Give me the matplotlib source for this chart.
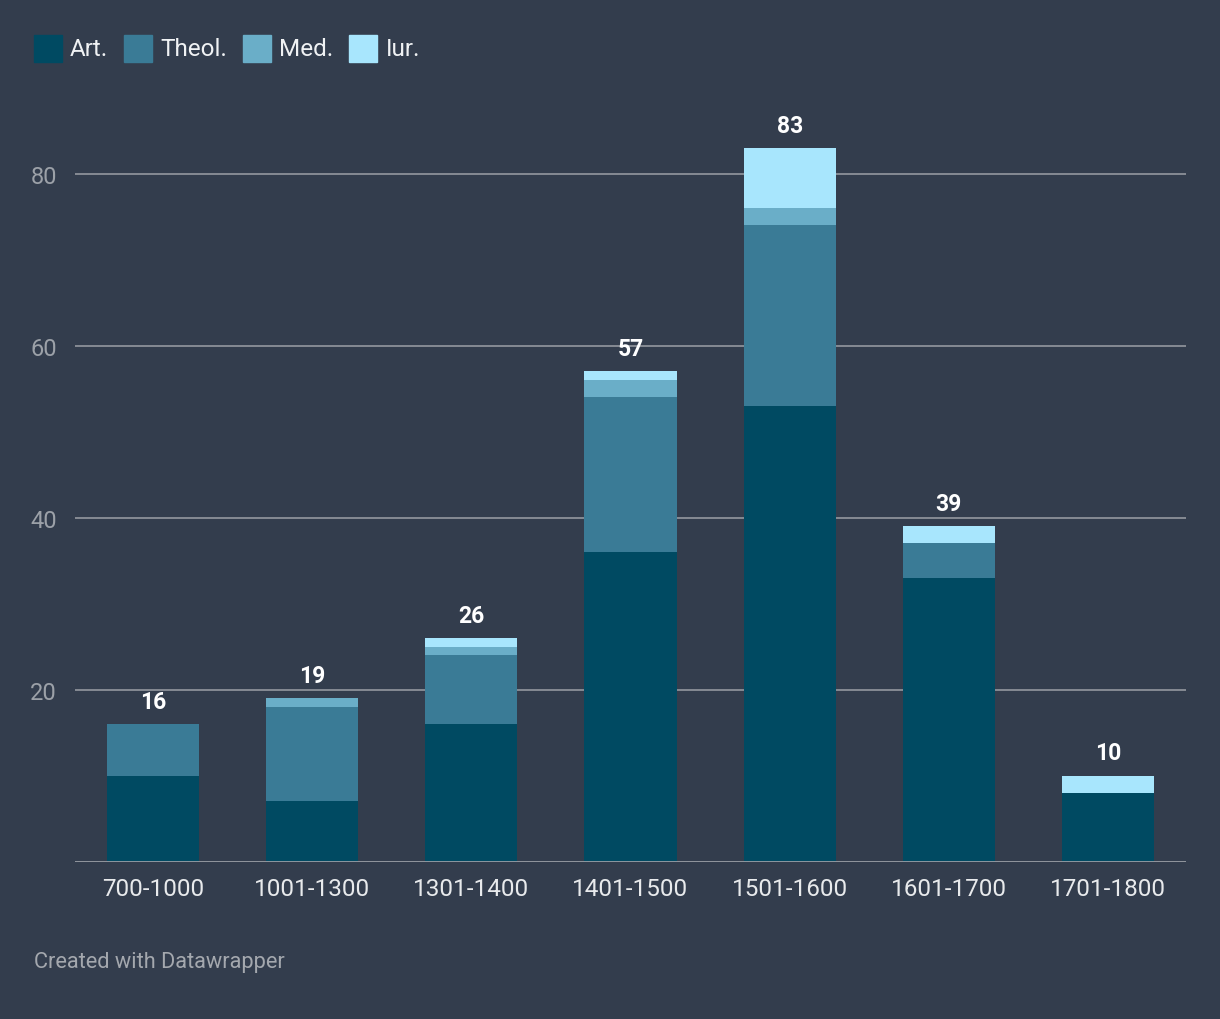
import matplotlib
matplotlib.use("Agg")
import matplotlib.pyplot as plt
import numpy as np
from matplotlib.patches import Rectangle

plt.rcParams["font.family"] = ["Roboto", "DejaVu Sans"]

periods = ["700-1000", "1001-1300", "1301-1400", "1401-1500", "1501-1600", "1601-1700", "1701-1800"]
art = [10, 7, 16, 36, 53, 33, 8]
theol = [6, 11, 8, 18, 21, 4, 0]
med = [0, 1, 1, 2, 2, 0, 0]
iur = [0, 0, 1, 1, 7, 2, 2]

series = [("Art.", art, "#004a62"), ("Theol.", theol, "#3a7b96"),
          ("Med.", med, "#6aaec8"), ("Iur.", iur, "#a8e6fd")]

BG = "#333d4d"
fig = plt.figure(figsize=(12.2, 10.2), dpi=100)
fig.patch.set_facecolor(BG)
# axes: left 75px, right 1186px, bottom ~862px (y=0), 8.6 px per unit
ymax = 88
ax = fig.add_axes([75 / 1220, (1020 - 862.5) / 1020, (1186 - 75) / 1220, ymax * 8.6 / 1020])
ax.set_facecolor(BG)

x = np.arange(len(periods))
bottom = np.zeros(len(periods))
for name, vals, col in series:
    ax.bar(x, vals, bottom=bottom, width=0.58, color=col, linewidth=0, zorder=3)
    bottom += np.array(vals)

for xi, tot in zip(x, bottom):
    ax.text(xi, tot + 1.3, f"{int(tot)}", ha="center", va="bottom", fontsize=16.5,
            fontweight="bold", color="white", zorder=4)

ax.set_xlim(-0.49, len(periods) - 0.51)
ax.set_ylim(0, ymax)
ax.set_yticks([20, 40, 60, 80])
ax.yaxis.grid(True, color="#8c9199", linewidth=1.3)
ax.set_axisbelow(True)
ax.axhline(0, color="#9a9ea5", linewidth=2, zorder=4)
for s in ax.spines.values():
    s.set_visible(False)
ax.set_xticks(x)
ax.set_xticklabels(periods, fontsize=17.5, color="#e8eaec")
ax.tick_params(axis="x", length=0, pad=11)
ax.tick_params(axis="y", length=0, labelsize=17, labelcolor="#9ca1a8", pad=13)

# legend
lx = 34
for name, vals, col in series:
    fig.patches.append(Rectangle((lx / 1220, (1020 - 63) / 1020), 28 / 1220, 27 / 1020,
                                 transform=fig.transFigure, color=col, figure=fig))
    t = fig.text((lx + 36) / 1220, (1020 - 50) / 1020, name, fontsize=17.5,
                 color="#f0f2f4", va="center", ha="left")
    fig.canvas.draw()
    w = t.get_window_extent().width
    lx = lx + 36 + w + 16

fig.text(34 / 1220, (1020 - 963) / 1020, "Created with Datawrapper", fontsize=15.7,
         color="#a4a8ae", va="center", ha="left")

fig.savefig("out.png", facecolor=fig.get_facecolor())
